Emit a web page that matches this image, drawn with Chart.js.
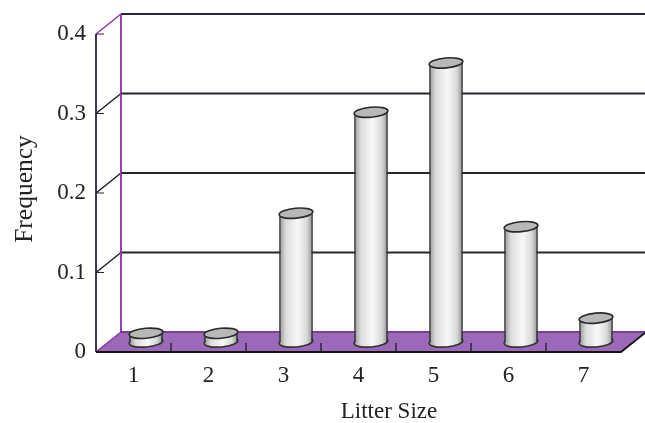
<!DOCTYPE html>
<html>
<head>
<meta charset="utf-8">
<style>
  html, body { margin: 0; padding: 0; background: #fff; }
  canvas { display: block; }
</style>
<script src="https://cdn.jsdelivr.net/npm/chart.js@4"></script>
</head>
<body>
<canvas id="litter-chart" width="645" height="423"></canvas>
<script>
const categories = ["1", "2", "3", "4", "5", "6", "7"];
const frequency = [0.011, 0.011, 0.162, 0.289, 0.351, 0.145, 0.03];
const tickLabels = [0, 0.1, 0.2, 0.3, 0.4];
const yTitle = "Frequency";
const xTitle = "Litter Size";

const FONT = '"Liberation Serif", serif';
const DEPTH_X = 25, DEPTH_Y = -20;
const TILT = -0.09, RY = 5;

function line(ctx, pts, color, width) {
    ctx.beginPath();
    pts.forEach(function (p, i) { i ? ctx.lineTo(p[0], p[1]) : ctx.moveTo(p[0], p[1]); });
    ctx.strokeStyle = color;
    ctx.lineWidth = width;
    ctx.stroke();
}

function cylinderGradient(ctx, left, right) {
    const g = ctx.createLinearGradient(left, 0, right, 0);
    g.addColorStop(0, "#959595");
    g.addColorStop(0.2, "#dcdcdc");
    g.addColorStop(0.55, "#f8f8f8");
    g.addColorStop(0.82, "#d8d8d8");
    g.addColorStop(1, "#909090");
    return g;
}

// walls, floor, grid lines and the bottoms of the cylinders
const box3d = {
    id: "box3d",
    beforeDatasetsDraw(chart) {
        const ctx = chart.ctx, a = chart.chartArea, y = chart.scales.y, x = chart.scales.x;
        const w = chart.width;
        ctx.save();
        // floor
        ctx.beginPath();
        ctx.moveTo(a.left, a.bottom);
        ctx.lineTo(a.right, a.bottom);
        ctx.lineTo(a.right + DEPTH_X, a.bottom + DEPTH_Y);
        ctx.lineTo(a.left + DEPTH_X, a.bottom + DEPTH_Y);
        ctx.closePath();
        ctx.fillStyle = "#9b69b8";
        ctx.fill();
        // grid lines on the wall
        tickLabels.forEach(function (t) {
            const py = y.getPixelForValue(t);
            const back = py + DEPTH_Y;
            const purple = t === 0 || t === 0.4;
            line(ctx, [[a.left + DEPTH_X, back], [w, back]], t === 0 ? "#7b3f9b" : "#2b2430", 2);
            line(ctx, [[a.left, py], [a.left + DEPTH_X, back]], purple ? "#8b2fa3" : "#1c1c1c", 1.5);
            line(ctx, [[a.left, py], [a.left + 8, py]], "#2b2430", 1);
        });
        // back and left wall edges
        line(ctx, [[a.left + DEPTH_X, a.top + DEPTH_Y], [a.left + DEPTH_X, a.bottom + DEPTH_Y]], "#8b2fa3", 1.8);
        line(ctx, [[a.left, a.top], [a.left, a.bottom]], "#2e1f38", 1.8);
        // front edge and ticks
        line(ctx, [[a.left, a.bottom], [a.right, a.bottom], [a.right + DEPTH_X, a.bottom + DEPTH_Y]], "#141414", 1.8);
        const step = (a.right - a.left) / categories.length;
        categories.forEach(function (c, i) {
            if (i === 0) return;
            const px = x.getPixelForValue(i) - step / 2;
            line(ctx, [[px, a.bottom], [px, a.bottom - 9]], "#141414", 1.2);
        });
        // cylinder bottoms
        ctx.translate(DEPTH_X / 2, DEPTH_Y / 2);
        chart.getDatasetMeta(0).data.forEach(function (bar) {
            const rx = bar.width / 2;
            ctx.beginPath();
            ctx.ellipse(bar.x, bar.base, rx, RY, TILT, 0, Math.PI * 2);
            ctx.fillStyle = cylinderGradient(ctx, bar.x - rx, bar.x + rx);
            ctx.fill();
            ctx.strokeStyle = "#333";
            ctx.lineWidth = 1.7;
            ctx.stroke();
        });
        // bars are drawn by the library in this shifted space
        ctx.save();
    },
    afterDatasetsDraw(chart) {
        const ctx = chart.ctx;
        ctx.restore();
        chart.getDatasetMeta(0).data.forEach(function (bar) {
            const rx = bar.width / 2;
            ctx.beginPath();
            ctx.ellipse(bar.x, bar.y, rx, RY, TILT, 0, Math.PI * 2);
            ctx.fillStyle = "#b8b8b8";
            ctx.fill();
            ctx.strokeStyle = "#2a2a2a";
            ctx.lineWidth = 1.7;
            ctx.stroke();
        });
        ctx.restore();
    },
    afterDraw(chart) {
        const ctx = chart.ctx;
        ctx.save();
        ctx.fillStyle = "#222";
        ctx.textAlign = "center";
        ctx.textBaseline = "middle";
        ctx.font = "23px " + FONT;
        ctx.fillText(xTitle, 389, 412);
        ctx.translate(25, 189);
        ctx.rotate(-Math.PI / 2);
        ctx.font = "25.5px " + FONT;
        ctx.fillText(yTitle, 0, 0);
        ctx.restore();
    }
};

new Chart(document.getElementById("litter-chart").getContext("2d"), {
    type: "bar",
    data: {
        labels: categories,
        datasets: [{
            data: frequency,
            clip: false,
            barPercentage: 0.45,
            categoryPercentage: 1,
            backgroundColor: function (c) {
                if (c.type !== "data" || !c.chart.chartArea) return "#d8d8d8";
                const x = c.chart.scales.x;
                const half = x.width / categories.length * 0.225;
                const px = x.getPixelForValue(c.dataIndex);
                return cylinderGradient(c.chart.ctx, px - half, px + half);
            },
            borderColor: "#333",
            borderWidth: { left: 1.7, right: 1.7, top: 0, bottom: 0 },
            borderSkipped: false
        }]
    },
    options: {
        responsive: false,
        animation: false,
        layout: { padding: { top: 34, right: 24 } },
        plugins: { legend: { display: false }, tooltip: { enabled: false } },
        scales: {
            x: {
                grid: { display: false },
                border: { display: false },
                ticks: { padding: 2, color: "#222", font: { family: FONT, size: 23 }, maxRotation: 0 },
                afterFit(s) { s.height = 71; }
            },
            y: {
                min: 0,
                max: 0.4,
                afterBuildTicks(s) { s.ticks = tickLabels.map(function (v) { return { value: v }; }); },
                grid: { display: false },
                border: { display: false },
                ticks: {
                    padding: 2,
                    color: "#222",
                    font: { family: FONT, size: 23 },
                    callback(v) { return String(v); }
                },
                afterFit(s) { s.width = 96; }
            }
        }
    },
    plugins: [box3d]
});
</script>
</body>
</html>
